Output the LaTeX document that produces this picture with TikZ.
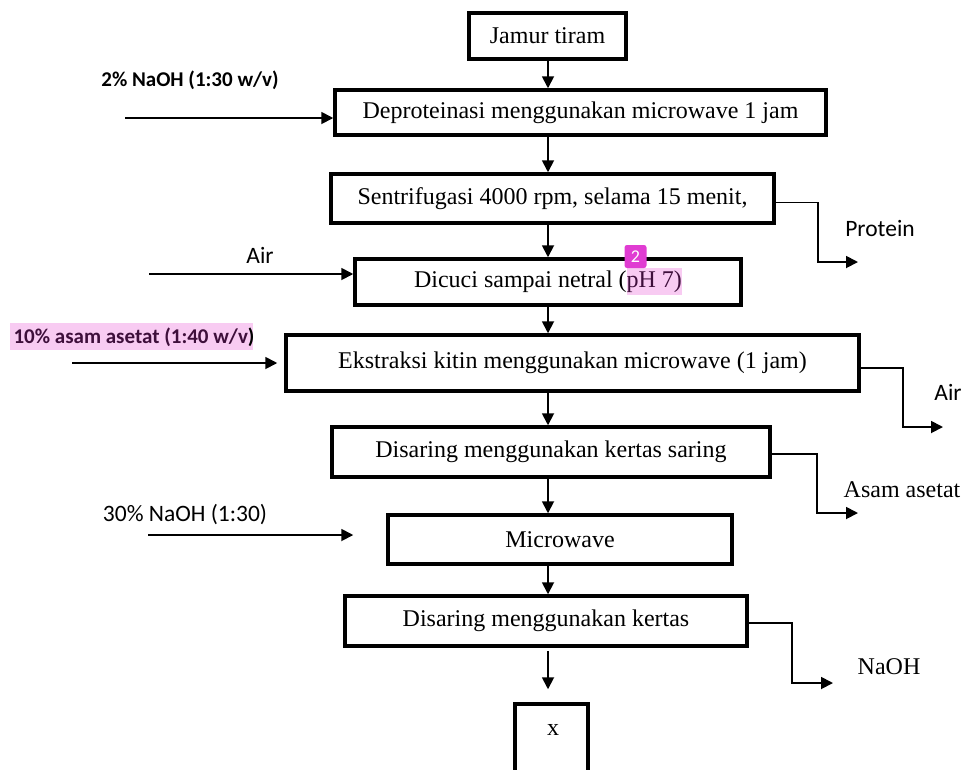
\documentclass[tikz,border=0pt]{standalone}
\usepackage{fontspec}
\setmainfont{Liberation Serif}
\newfontfamily\labelsans{Carlito}
\usetikzlibrary{arrows.meta}
\definecolor{hlpink}{HTML}{F8CBF2}
\definecolor{hltext}{HTML}{3E0F3B}
\definecolor{badge}{HTML}{E03CD2}
\tikzset{
  proc/.style={draw, line width=3.5pt, inner sep=0pt, font=\fontsize{24}{28}\selectfont},
  flow/.style={line width=1.8pt, -{Triangle[length=12pt,width=12pt]}},
  lbl/.style={inner sep=0pt, font=\labelsans\fontsize{23.5}{28}\selectfont},
  lblbold/.style={inner sep=0pt, font=\labelsans\bfseries\fontsize{21}{25}\selectfont},
  lblserif/.style={inner sep=0pt, font=\fontsize{24}{28}\selectfont}
}
\begin{document}
\begin{tikzpicture}[x=1pt,y=-1pt]
  \useasboundingbox (0,0) rectangle (965,769);
  % highlights
  \fill[hlpink] (10,323) rectangle (253,350);
  \fill[hlpink] (627,268) rectangle (682,295);

  % process steps
  \node[proc, minimum width=157pt, minimum height=46pt] (jamur) at (547.5,36) {Jamur tiram};
  \node[proc, minimum width=491pt, minimum height=45pt] (deprot) at (580.5,112.5) {Deproteinasi menggunakan microwave 1 jam};
  \node[proc, minimum width=443pt, minimum height=49pt] (sentri) at (552.5,198.5) {Sentrifugasi 4000 rpm, selama 15 menit,};
  \node[proc, minimum width=386pt, minimum height=46pt] (cuci) at (548,282) {Dicuci sampai netral (\textcolor{hltext}{pH 7)}};
  \node[proc, minimum width=573pt, minimum height=56pt] (ekstr) at (572.5,363) {Ekstraksi kitin menggunakan microwave (1 jam)};
  \node[proc, minimum width=438pt, minimum height=50pt] (saring) at (551,452) {Disaring menggunakan kertas saring};
  \node[proc, minimum width=344pt, minimum height=49pt] (micro) at (560,539.5) {Microwave};
  \node[proc, minimum width=402pt, minimum height=50pt] (kertas) at (546,621) {Disaring menggunakan kertas};
  \node[proc, minimum width=73pt, minimum height=120pt, text depth=0pt] (hasil) at (551.5,764) {};
  \node[lblserif] (xlbl) at (553,730) {x};

  % badge
  \node[fill=badge, rounded corners=2.5pt, text=white, inner sep=0pt, minimum width=22pt, minimum height=23pt,
        font=\labelsans\fontsize{18}{20}\selectfont] (nomor) at (635.5,256.5) {2};

  % main line
  \coordinate (col) at (548,0);
  \draw[flow] (jamur.south -| col) -- (deprot.north -| col);
  \draw[flow] (deprot.south -| col) -- (sentri.north -| col);
  \draw[flow] (sentri.south -| col) -- (cuci.north -| col);
  \draw[flow] (cuci.south -| col) -- (ekstr.north -| col);
  \draw[flow] (ekstr.south -| col) -- (saring.north -| col);
  \draw[flow] (saring.south -| col) -- (micro.north -| col);
  \draw[flow] (micro.south -| col) -- (kertas.north -| col);
  \draw[flow, shorten <=3pt, shorten >=13pt] (kertas.south -| col) -- (hasil.north -| col);

  % inputs
  \node[lblbold] (naoh2) at (190,80) {2\% NaOH (1:30 w/v)};
  \node[lbl] (air1) at (260,255) {Air};
  \node[lblbold, text=hltext] (asam10) at (134,337) {10\% asam asetat (1:40 w/v\textcolor{black}{)}};
  \node[lbl] (naoh30) at (185,515) {30\% NaOH (1:30)};
  \coordinate (in1) at (125,118);
  \coordinate (in2) at (149,274);
  \coordinate (in3) at (72,363);
  \coordinate (in4) at (148,535);
  \draw[flow] (in1) -- (in1 -| deprot.west);
  \draw[flow] (in2) -- (in2 -| cuci.west);
  \draw[flow, shorten >=7pt] (in3) -- (in3 -| ekstr.west);
  \draw[flow, shorten >=33pt] (in4) -- (in4 -| micro.west);

  % outputs
  \coordinate (out1) at (858,262);
  \coordinate (out2) at (943,427);
  \coordinate (out3) at (858,513);
  \coordinate (out4) at (833,683);
  \draw[flow] ([yshift=-4pt]sentri.east) -- ++(42,0) |- (out1);
  \draw[flow] ([yshift=-5pt]ekstr.east) -- ++(42,0) |- (out2);
  \draw[flow] ([yshift=-2pt]saring.east) -- ++(45,0) |- (out3);
  \draw[flow] ([yshift=-2pt]kertas.east) -- ++(43,0) |- (out4);
  \node[lbl] (protein) at (880,228) {Protein};
  \node[lbl] (air2) at (948,392) {Air};
  \node[lblserif] (asetat) at (902,490) {Asam asetat};
  \node[lblserif] (naoh) at (889,667) {NaOH};
\end{tikzpicture}
\end{document}
